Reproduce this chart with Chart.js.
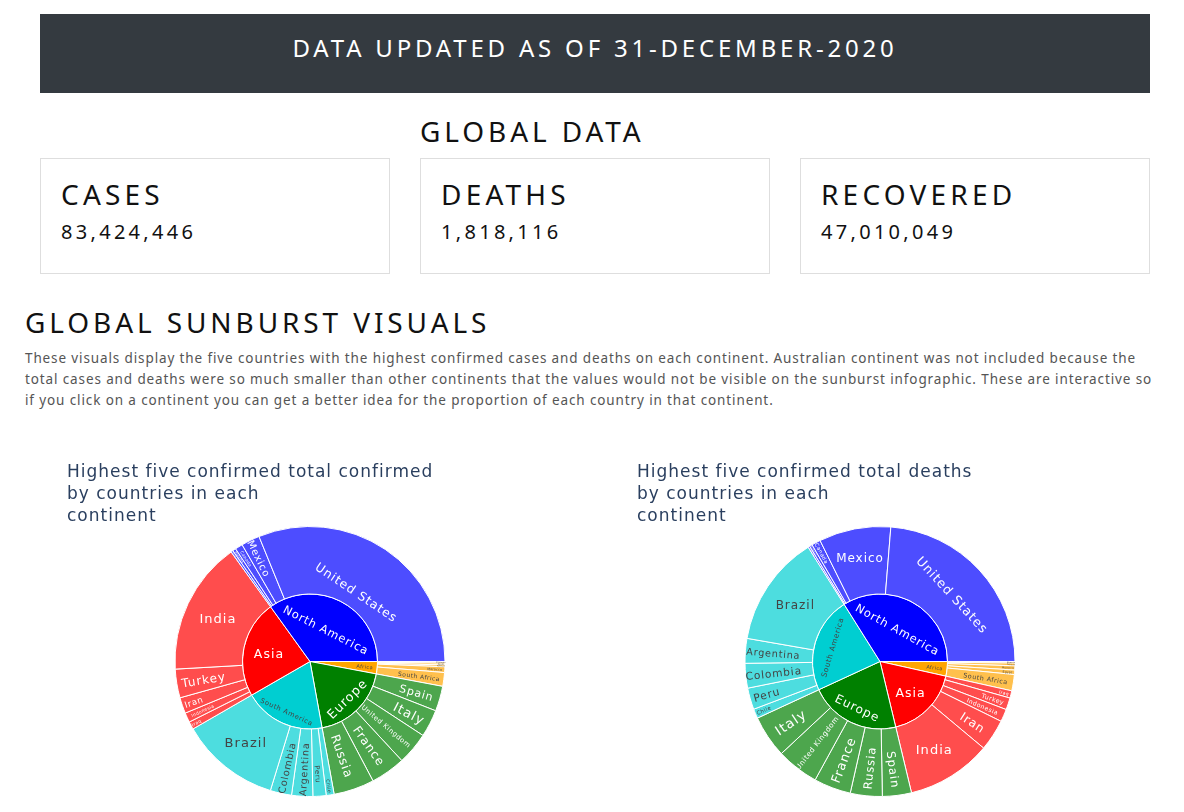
<!DOCTYPE html>
<html>
<head>
<meta charset="utf-8">
<title>Global Data</title>
<script src="https://cdn.jsdelivr.net/npm/chart.js@4"></script>
<style>
html, body { margin: 0; height: 812px; overflow: hidden; background: #fff; }
body { position: relative; font-family: "Noto Sans", sans-serif; color: #111; letter-spacing: 3.9px; }
.t { position: absolute; white-space: nowrap; line-height: 1; }
.banner { position: absolute; left: 40px; top: 14px; width: 1110px; height: 79px; background: #343a40; color: #fff;
  text-align: center; line-height: 68px; font-size: 24px; letter-spacing: 3.8px; }
.card { position: absolute; top: 158px; width: 348px; height: 114px; border: 1px solid #dedede; }
.card h2 { position: absolute; left: 20px; top: 18px; margin: 0; font-size: 28px; font-weight: 400; line-height: 34px; letter-spacing: 4.2px; }
.card p { position: absolute; left: 20px; top: 60px; margin: 0; font-size: 20px; line-height: 26px; letter-spacing: 3.3px; }
.note { position: absolute; left: 25px; top: 348px; width: 1130px; margin: 0; font-size: 13.5px; line-height: 21px;
  letter-spacing: 0.88px; color: #555; white-space: nowrap; }
canvas { position: absolute; }
</style>
</head>
<body>
<div class="banner">DATA UPDATED AS OF 31-DECEMBER-2020</div>
<div class="t" style="left:420px;top:117px;font-size:28px">GLOBAL DATA</div>
<div class="card" style="left:40px"><h2>CASES</h2><p>83,424,446</p></div>
<div class="card" style="left:420px"><h2>DEATHS</h2><p>1,818,116</p></div>
<div class="card" style="left:800px"><h2>RECOVERED</h2><p>47,010,049</p></div>
<div class="t" style="left:25px;top:308px;font-size:28px">GLOBAL SUNBURST VISUALS</div>
<p class="note">These visuals display the five countries with the highest confirmed cases and deaths on each continent. Australian continent was not included because the<br>total cases and deaths were so much smaller than other continents that the values would not be visible on the sunburst infographic. These are interactive so<br>if you click on a continent you can get a better idea for the proportion of each country in that continent.</p>
<div style="position:absolute;left:67px;top:450px;width:486px;height:362px"><canvas id="casesChart"></canvas></div>
<div style="position:absolute;left:637px;top:450px;width:486px;height:362px"><canvas id="deathsChart"></canvas></div>

<script>
const casesContinents = ['Africa', 'Europe', 'South America', 'Asia', 'North America'];
const casesContinentValues = [1897127, 12336675, 12568372, 15038957, 22462971];
const casesCountries = [
    'Ethiopia', 'Egypt', 'Tunisia', 'Morocco', 'South Africa',
    'Spain', 'Italy', 'United Kingdom', 'France', 'Russia',
    'Chile', 'Peru', 'Argentina', 'Colombia', 'Brazil',
    'Iraq', 'Indonesia', 'Iran', 'Turkey', 'India',
    'Costa Rica', 'Panama', 'Canada', 'Mexico', 'United States'
];
const casesValues = [
    124264, 138062, 138447, 439193, 1057161,
    1928265, 2107166, 2496231, 2677666, 3127347,
    608973, 1015137, 1625514, 1642775, 7675973,
    595291, 743198, 1225142, 2208652, 10266674,
    169321, 246790, 581403, 1426094, 20039363
];

const deathsContinents = ['Africa', 'Asia', 'Europe', 'South America', 'North America'];
const deathsContinentValues = [51030, 259793, 319869, 335739, 496081];
const deathsCountries = [
    'Algeria', 'Tunisia', 'Morocco', 'Egypt', 'South Africa',
    'Iraq', 'Turkey', 'Indonesia', 'Iran', 'India',
    'Spain', 'Russia', 'France', 'United Kingdom', 'Italy',
    'Chile', 'Peru', 'Colombia', 'Argentina', 'Brazil',
    'Honduras', 'Guatemala', 'Canada', 'Mexico', 'United States'
];
const deathsValues = [
    2756, 4676, 7388, 7741, 28469,
    12813, 20881, 22138, 55223, 148738,
    50837, 55827, 64921, 74125, 74159,
    16608, 37724, 43213, 43245, 194949,
    3100, 4813, 15606, 125807, 346955
];

const continentColors = {
    'Africa': ['#ffa500', '#ffc04d'],
    'Europe': ['#008000', '#4da64d'],
    'South America': ['#00ced1', '#4ddddf'],
    'Asia': ['#ff0000', '#ff4d4d'],
    'North America': ['#0000ff', '#4d4dff']
};
const darkText = '#444444';
const lightText = '#ffffff';
const darkContinents = ['Africa', 'South America'];

// label look per slice: orientation, font size, distance from centre
const casesLabels = {
    'Africa': ['r', 5, 55], 'Europe': ['t', 12.7, 52], 'South America': ['t', 6.8, 55], 'Asia': ['h', 12.5, 42], 'North America': ['t', 11.4, 36],
    'Ethiopia': ['r', 2, 131], 'Egypt': ['r', 2, 131], 'Tunisia': ['r', 2, 131], 'Morocco': ['r', 3.2, 125], 'South Africa': ['r', 6, 110],
    'Spain': ['r', 11, 111], 'Italy': ['r', 13, 112], 'United Kingdom': ['r', 6.8, 100], 'France': ['r', 12, 103], 'Russia': ['r', 12.2, 100],
    'Chile': ['r', 4.8, 126], 'Peru': ['r', 7, 113], 'Argentina': ['r', 9.6, 108], 'Colombia': ['r', 9.8, 109], 'Brazil': ['h', 13, 103],
    'Iraq': ['r', 4.5, 129], 'Indonesia': ['r', 4.4, 118], 'Iran': ['r', 8.5, 123], 'Turkey': ['r', 12, 108], 'India': ['h', 13, 102],
    'Costa Rica': ['r', 2, 128], 'Panama': ['r', 3, 126], 'Canada': ['r', 4.2, 121], 'Mexico': ['r', 10, 115], 'United States': ['t', 12.3, 84]
};
const deathsLabels = {
    'Africa': ['r', 5, 55], 'Asia': ['h', 12.5, 43], 'Europe': ['t', 12, 51], 'South America': ['t', 7.4, 50], 'North America': ['t', 11.4, 37],
    'Algeria': ['r', 2, 131], 'Tunisia': ['r', 2, 131], 'Morocco': ['r', 2.5, 128], 'Egypt': ['r', 3, 128], 'South Africa': ['r', 6.4, 107],
    'Iraq': ['r', 4.5, 128], 'Turkey': ['r', 6.3, 119], 'Indonesia': ['r', 6.1, 112], 'Iran': ['r', 12, 111], 'India': ['h', 13, 103],
    'Spain': ['r', 11.7, 109], 'Russia': ['r', 11.6, 107], 'France': ['r', 12.7, 105], 'United Kingdom': ['r', 7.2, 103], 'Italy': ['r', 13.5, 108],
    'Chile': ['r', 5.3, 126], 'Peru': ['r', 10.7, 118], 'Colombia': ['r', 10.6, 107], 'Argentina': ['r', 9.7, 107], 'Brazil': ['h', 12, 102],
    'Honduras': ['r', 2, 130], 'Guatemala': ['r', 2, 130], 'Canada': ['r', 5.3, 123], 'Mexico': ['h', 12, 106], 'United States': ['t', 12.7, 99]
};

function expandColors(continents, tone) {
    let colors = [];
    continents.forEach(function (name) {
        for (let i = 0; i < 5; i++) {
            colors.push(continentColors[name][tone]);
        }
    });
    return colors;
}

function expandNames(continents) {
    let names = [];
    continents.forEach(function (name) {
        for (let i = 0; i < 5; i++) {
            names.push(name);
        }
    });
    return names;
}

// keep text upright, whatever the slice angle is
function upright(angle) {
    let a = angle % Math.PI;
    if (a > Math.PI / 2) a -= Math.PI;
    if (a < -Math.PI / 2) a += Math.PI;
    return a;
}

const sliceLabels = {
    id: 'sliceLabels',
    beforeDraw(chart) {
        chart.ctx.letterSpacing = '1px';
    },
    afterDatasetsDraw(chart, args, opts) {
        const ctx = chart.ctx;
        chart.data.datasets.forEach(function (dataset, d) {
            chart.getDatasetMeta(d).data.forEach(function (arc, i) {
                const name = dataset.names[i];
                const look = opts.looks[name];
                const p = arc.getProps(['x', 'y', 'startAngle', 'endAngle']);
                const mid = (p.startAngle + p.endAngle) / 2;
                let rot = 0;
                if (look[0] === 'r') rot = upright(mid);
                if (look[0] === 't') rot = upright(mid + Math.PI / 2);
                ctx.save();
                ctx.translate(p.x + look[2] * Math.cos(mid), p.y + look[2] * Math.sin(mid));
                ctx.rotate(rot);
                ctx.font = look[1] + 'px "DejaVu Sans"';
                ctx.letterSpacing = (look[1] * 0.08) + 'px';
                ctx.textAlign = 'center';
                ctx.textBaseline = 'middle';
                ctx.fillStyle = darkContinents.includes(dataset.parents[i]) ? darkText : lightText;
                ctx.fillText(name, 0, look[1] * 0.14);
                ctx.restore();
            });
        });
    }
};

function drawSunburst(id, titleLines, continents, continentValues, countries, values, looks) {
    new Chart(document.getElementById(id), {
        type: 'doughnut',
        plugins: [sliceLabels],
        data: {
            labels: countries,
            datasets: [{
                data: values,
                names: countries,
                parents: expandNames(continents),
                backgroundColor: expandColors(continents, 1),
                borderColor: '#fff',
                borderWidth: 1
            }, {
                data: continentValues,
                names: continents,
                parents: continents,
                backgroundColor: continents.map(function (c) { return continentColors[c][0]; }),
                borderColor: '#fff',
                borderWidth: 1
            }]
        },
        options: {
            responsive: true,
            maintainAspectRatio: false,
            animation: false,
            rotation: 90,
            cutout: 0,
            layout: { padding: { bottom: 15 } },
            plugins: {
                legend: { display: false },
                title: {
                    display: true,
                    text: titleLines,
                    align: 'start',
                    color: '#2a3f5f',
                    font: { family: '"DejaVu Sans"', size: 17, weight: 'normal', lineHeight: 1.294 },
                    padding: { top: 12, bottom: -2 }
                },
                sliceLabels: { looks: looks }
            }
        }
    });
}

drawSunburst('casesChart', ['Highest five confirmed total confirmed', 'by countries in each', 'continent'],
    casesContinents, casesContinentValues, casesCountries, casesValues, casesLabels);
drawSunburst('deathsChart', ['Highest five confirmed total deaths', 'by countries in each', 'continent'],
    deathsContinents, deathsContinentValues, deathsCountries, deathsValues, deathsLabels);
</script>
</body>
</html>
